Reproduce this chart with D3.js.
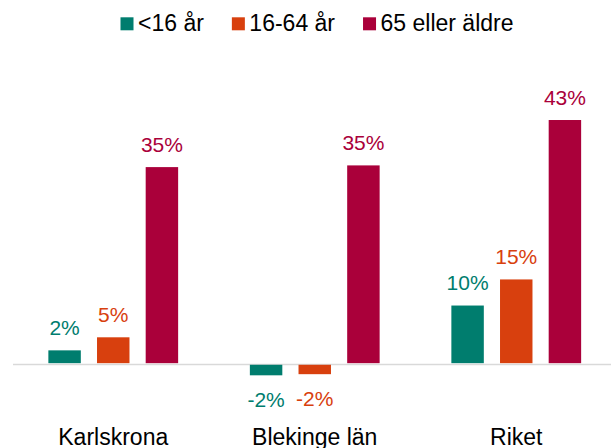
<!DOCTYPE html>
<html>
<head>
<meta charset="utf-8">
<script src="https://cdn.jsdelivr.net/npm/d3@7"></script>
<style>
body { margin: 0; background: #fff; }
svg { font-family: "Liberation Sans", Arial, sans-serif; }
</style>
</head>
<body>
<div class="container"></div>
<script>
// data
var categories = ["Karlskrona", "Blekinge län", "Riket"];
var series = ["<16 år", "16-64 år", "65 eller äldre"];
var colors = ["#007d6e", "#d8400e", "#aa003a"];
var under16 = [2.4, -2.0, 10.3];
var age16to64 = [4.7, -1.8, 14.9];
var over65 = [34.7, 35.0, 43.0];
var values = [under16, age16to64, over65];

var W = 611, H = 448;

function makeStage(w, h) {
	var stage = d3.select(".container")
	.append("svg")
	.attr("width", w)
	.attr("height", h);
	return stage;
}

var svg = makeStage(W, H);

var x0 = d3.scaleBand().domain(categories).range([12.5, 617]).padding(0);
var x1 = d3.scaleBand().domain(series).range([0, 146]).paddingInner(0.333).paddingOuter(0.1667);
var y = d3.scaleLinear().domain([-10, 50]).range([420.7, 80.3]);

// flat list of bars
var bars = [];
categories.forEach(function(c, i) {
	series.forEach(function(s, j) {
		bars.push({ cat: c, ser: s, v: values[j][i], color: colors[j] });
	});
});

function barX(d) {
	return x0(d.cat) + x0.bandwidth() / 2 - 73 + x1(d.ser);
}

// category axis at zero
var axis = svg.append("g")
	.attr("transform", "translate(0," + y(0) + ")")
	.call(d3.axisBottom(x0).tickSize(0).tickSizeOuter(0));
axis.select(".domain").attr("stroke", "#d9d9d9").attr("stroke-width", 1.6);
axis.selectAll(".tick text")
	.attr("y", 445 - y(0))
	.attr("dy", 0)
	.attr("fill", "#000")
	.style("font-size", "23px")
	.style("font-family", "'Liberation Sans', Arial, sans-serif");

svg.selectAll("rect.bar")
	.data(bars)
	.enter()
	.append("rect")
	.attr("class", "bar")
	.attr("x", barX)
	.attr("width", x1.bandwidth())
	.attr("y", function(d) { return d.v >= 0 ? y(d.v) : y(0) + 0.8; })
	.attr("height", function(d) { return d.v >= 0 ? y(0) - 0.8 - y(d.v) : y(d.v) - y(0) - 0.8; })
	.style("fill", function(d) { return d.color; });

svg.selectAll("text.val")
	.data(bars)
	.enter()
	.append("text")
	.attr("class", "val")
	.attr("x", function(d) { return barX(d) + x1.bandwidth() / 2; })
	.attr("y", function(d) { return d.v >= 0 ? y(d.v) - 15.5 : y(d.v) + 32; })
	.attr("text-anchor", "middle")
	.style("font-size", "21px")
	.style("fill", function(d) { return d.color; })
	.text(function(d) { return Math.round(d.v) + "%"; });

// legend, centered
var legend = svg.append("g");
var lx = 0;
series.forEach(function(s, j) {
	var item = legend.append("g").attr("transform", "translate(" + lx + ",0)");
	item.append("rect")
		.attr("x", 0).attr("y", 17.3)
		.attr("width", 13).attr("height", 13)
		.style("fill", colors[j]);
	var t = item.append("text")
		.attr("x", 17.5).attr("y", 30.7)
		.style("font-size", "23px")
		.style("fill", "#000")
		.text(s);
	lx += 17.5 + t.node().getComputedTextLength() + 28;
});
var legendW = lx - 28;
legend.attr("transform", "translate(" + (317 - legendW / 2) + ",0)");
</script>
</body>
</html>
